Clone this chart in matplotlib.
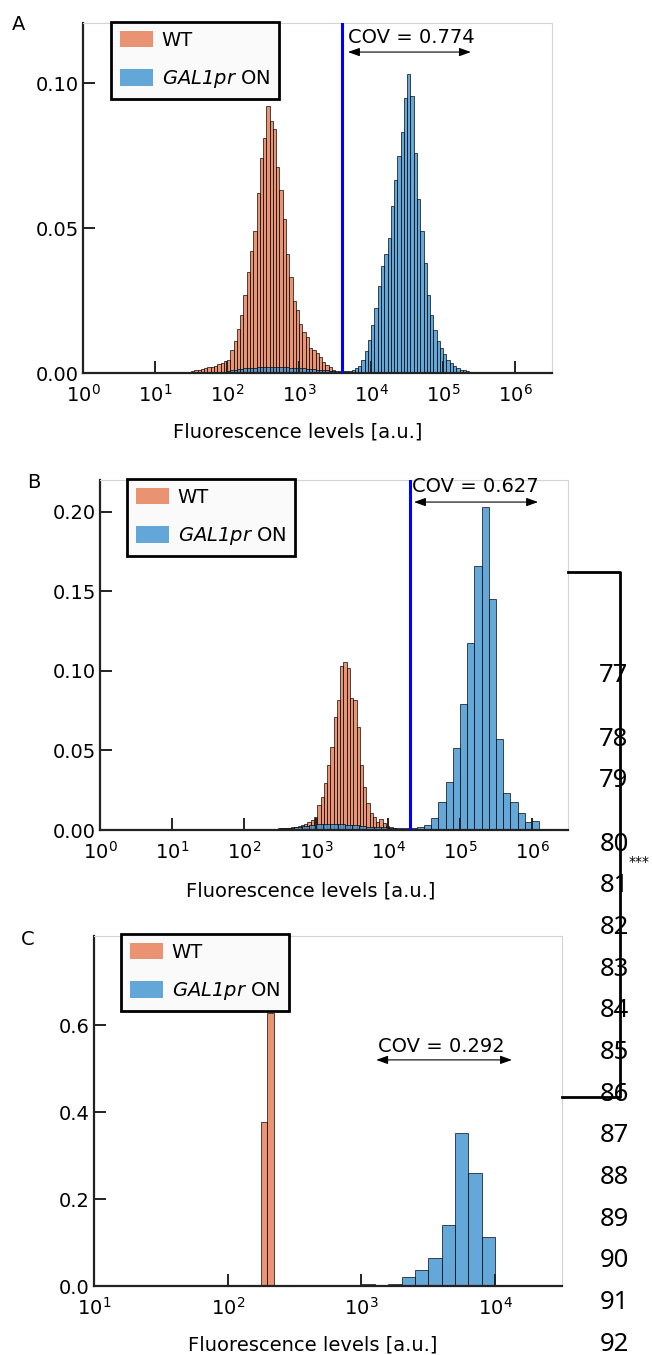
import numpy as np
import matplotlib
matplotlib.use("Agg")
import matplotlib.pyplot as plt
from matplotlib.patches import Patch
from matplotlib.lines import Line2D
from matplotlib.ticker import FormatStrFormatter, FixedLocator, NullLocator

plt.rcParams["font.family"] = ["DejaVu Sans"]
# only the legend uses \mathrm, so make it the italic face (digits included)
plt.rcParams["mathtext.fontset"] = "custom"
plt.rcParams["mathtext.rm"] = "DejaVu Sans:italic"
plt.rcParams["mathtext.it"] = "DejaVu Sans:italic"

W, H = 652, 1355

# histogram heights; bins are evenly spaced in log10(fluorescence),
# each series given as (first bin edge exponent, bin width in decades, heights)
a_wt_start, a_wt_step = 1.50, 1 / 22
a_wt = [0.0008, 0.001, 0.0012, 0.0015, 0.0018, 0.002, 0.0022, 0.0025, 0.003, 0.0035,
        0.004, 0.0046, 0.0078, 0.011, 0.0153, 0.020, 0.027, 0.035, 0.042, 0.049,
        0.062, 0.074, 0.081, 0.092, 0.087, 0.084, 0.071, 0.063, 0.053, 0.041,
        0.033, 0.025, 0.0217, 0.017, 0.0142, 0.0125, 0.0085, 0.0079, 0.0068, 0.0056,
        0.0039, 0.0027, 0.002, 0.001, 0.0005]

a_on_start, a_on_step = 1.50 + 10 / 22, 1 / 22
a_on = [0.0005, 0.0008, 0.001, 0.0012, 0.0014, 0.0015, 0.0016, 0.0017, 0.0018, 0.0018,
        0.0019, 0.002, 0.002, 0.0021, 0.002, 0.0021, 0.002, 0.0019, 0.002, 0.0019,
        0.0018, 0.0018, 0.0017, 0.0016, 0.0016, 0.0015, 0.0014, 0.0013, 0.0012, 0.0011,
        0.001, 0.0009, 0.0008, 0.0008, 0.0007, 0.0007, 0.0007, 0.0008,
        0.0008, 0.0012, 0.0018, 0.0023, 0.0046, 0.0075, 0.0115, 0.0167, 0.0224, 0.030,
        0.037, 0.041, 0.0466, 0.0575, 0.0667, 0.075, 0.083, 0.095, 0.103, 0.0954,
        0.0759, 0.060, 0.049, 0.038, 0.027, 0.020, 0.015, 0.011, 0.0085, 0.0065,
        0.0046, 0.0035, 0.0025, 0.0017, 0.0012, 0.001, 0.0007, 0.0005, 0.0003]

b_wt_start, b_wt_step = 2.29, 1 / 22
b_wt = [0.0003, 0.0005, 0.0005, 0.0008, 0.001, 0.001, 0.0012, 0.0015, 0.0018, 0.002,
        0.0025, 0.003, 0.004, 0.005, 0.0063, 0.0084, 0.016, 0.021, 0.0295, 0.041,
        0.052, 0.071, 0.082, 0.103, 0.1055, 0.102, 0.083, 0.082, 0.065, 0.041,
        0.027, 0.017, 0.0105, 0.0084, 0.0053, 0.0068, 0.0042, 0.0025, 0.0017, 0.001,
        0.0006, 0.0003]

b_on_start, b_on_step = 2.3, 0.1
b_on = [0.0005, 0.0008, 0.001, 0.0015, 0.002, 0.0025, 0.003, 0.0035, 0.004, 0.004,
        0.0035, 0.003, 0.003, 0.0025, 0.002, 0.002, 0.0018, 0.0015, 0.0015, 0.0012,
        0.001, 0.002, 0.003, 0.0074, 0.0173, 0.030, 0.0517, 0.0795, 0.1175, 0.166,
        0.203, 0.145, 0.0574, 0.023, 0.0173, 0.011, 0.0053, 0.0057]

c_wt_start, c_wt_step = 2.25, 0.047
c_wt = [0.377, 0.628]

c_on_start, c_on_step = 3.0, 0.1
c_on = [0.004, 0.0, 0.004, 0.021, 0.037, 0.064, 0.14, 0.352, 0.26, 0.113]

cov_labels = ["COV = 0.774", "COV = 0.627", "COV = 0.292"]
thresholds = [3960, 20200, None]
y_tops = [0.1207, 0.2201, 0.8046]
y_ticks = [[0.0, 0.05, 0.10], [0.0, 0.05, 0.10, 0.15, 0.20], [0.0, 0.2, 0.4, 0.6]]
y_fmt = ["%.2f", "%.2f", "%.1f"]
x_decades = [range(0, 7), range(0, 7), range(1, 5)]
x_ranges = [(1, 10 ** 6.51), (1, 10 ** 6.5), (10, 10 ** 4.5)]
panel_letters = ["A", "B", "C"]
line_numbers = list(range(77, 93))

WT_COLOR = "#E57A50"
ON_COLOR = "#3D93D1"

# layout in pixels
axes_px = [(83, 23, 552, 373), (100, 480, 568, 830), (94, 936, 562, 1286)]
legend_anchor = [(0.060, 1.003), (0.058, 1.003), (0.058, 1.006)]
letter_px = [(18.5, 30), (34, 488), (28, 945)]
xlabel_pos = [(0.458, -0.183), (0.451, -0.189), (0.468, -0.183)]
cov_text_pos = [(0.565, 0.943), (0.667, 0.966), (0.607, 0.669)]
cov_arrow = [(0.565, 0.827, 0.917), (0.671, 0.936, 0.937), (0.603, 0.893, 0.646)]
line_number_y = [673, 737, 778, 842, 883, 925, 967, 1008, 1050, 1092,
                 1133, 1175, 1217, 1258, 1300, 1342]


def fx(x):
    return x / W


def fy(y):
    return 1 - y / H


def draw_hist(ax, start, step, heights, color):
    edges = 10 ** (start + step * np.arange(len(heights) + 1))
    ax.bar(edges[:-1], heights, width=np.diff(edges), align="edge",
           color=color, alpha=0.8, edgecolor="black", linewidth=0.6)


fig = plt.figure(figsize=(W / 100, H / 100), dpi=100)

series = [
    [(a_wt_start, a_wt_step, a_wt), (a_on_start, a_on_step, a_on)],
    [(b_wt_start, b_wt_step, b_wt), (b_on_start, b_on_step, b_on)],
    [(c_wt_start, c_wt_step, c_wt), (c_on_start, c_on_step, c_on)],
]

for i in range(3):
    l, t, r, b = axes_px[i]
    ax = fig.add_axes([fx(l), fy(b), (r - l) / W, (b - t) / H])
    ax.set_xscale("log")

    (ws, wstep, wh), (os_, ostep, oh) = series[i]
    draw_hist(ax, ws, wstep, wh, WT_COLOR)
    draw_hist(ax, os_, ostep, oh, ON_COLOR)

    if thresholds[i] is not None:
        ax.axvline(thresholds[i], color="#0000ff", lw=2.2, zorder=3)

    ax.set_xlim(*x_ranges[i])
    ax.set_ylim(0, y_tops[i])
    ax.xaxis.set_major_locator(FixedLocator([10.0 ** k for k in x_decades[i]]))
    ax.set_xticklabels([r"$\mathdefault{10^{%d}}$" % k for k in x_decades[i]])
    ax.xaxis.set_minor_locator(NullLocator())
    ax.set_yticks(y_ticks[i])
    ax.yaxis.set_major_formatter(FormatStrFormatter(y_fmt[i]))

    for s in ["top", "right"]:
        ax.spines[s].set_color("#d4d4d4")
        ax.spines[s].set_linewidth(0.8)
    for s in ["left", "bottom"]:
        ax.spines[s].set_color("#222222")
        ax.spines[s].set_linewidth(1.6)
    ax.tick_params(direction="in", length=8.5, width=1.4, color="#222222", labelsize=14)
    ax.tick_params(axis="x", pad=8)
    ax.tick_params(axis="y", pad=3)

    ax.set_xlabel("Fluorescence levels [a.u.]", fontsize=14, va="baseline")
    ax.xaxis.set_label_coords(*xlabel_pos[i])

    x0, x1, ya = cov_arrow[i]
    ax.annotate("", xy=(x1, ya), xytext=(x0, ya), xycoords="axes fraction",
                arrowprops=dict(arrowstyle="<|-|>,head_length=0.5,head_width=0.18",
                                lw=0.8, color="black", shrinkA=0, shrinkB=0,
                                mutation_scale=14))
    ax.text(*cov_text_pos[i], cov_labels[i], transform=ax.transAxes,
            ha="left", va="baseline", fontsize=14)

    handles = [Patch(facecolor=WT_COLOR, alpha=0.8, edgecolor="none", label="WT"),
               Patch(facecolor=ON_COLOR, alpha=0.8, edgecolor="none",
                     label=r"$\mathrm{GAL1pr}$ ON")]
    leg = ax.legend(handles=handles, loc="upper left", bbox_to_anchor=legend_anchor[i],
                    borderaxespad=0, fontsize=14, handlelength=1.7, handleheight=0.93,
                    handletextpad=0.45, labelspacing=0.95, borderpad=0.45,
                    fancybox=False, framealpha=1, facecolor="#fafafa", edgecolor="black")
    leg.get_frame().set_linewidth(2.0)

    fig.text(fx(letter_px[i][0]), fy(letter_px[i][1]), panel_letters[i],
             ha="center", va="baseline", fontsize=14)

# manuscript line numbers and significance bracket on the right
for n, yc in zip(line_numbers, line_number_y):
    fig.text(fx(614), fy(yc + 9), str(n), family="Noto Sans", fontsize=18.5,
             ha="center", va="baseline")

bracket = Line2D([fx(568), fx(620), fx(620), fx(562)],
                 [fy(572), fy(572), fy(1097), fy(1097)],
                 transform=fig.transFigure, color="black", lw=2.0, zorder=5)
fig.add_artist(bracket)
fig.text(fx(629), fy(866), "***", fontsize=10, ha="left", va="baseline")

fig.savefig("out.png", dpi=100)
